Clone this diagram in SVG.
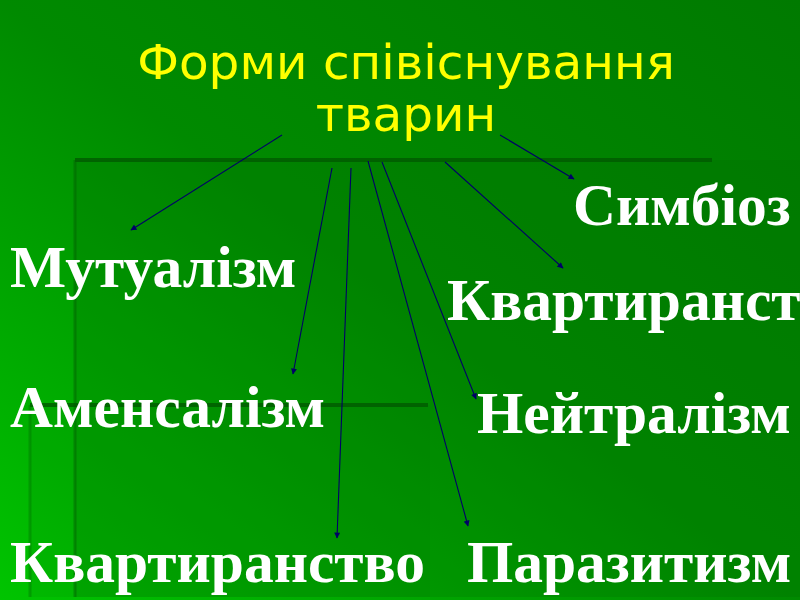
<svg xmlns="http://www.w3.org/2000/svg" width="800" height="600" viewBox="0 0 800 600">
<defs>
<linearGradient id="bg" x1="1" y1="0" x2="0" y2="1">
<stop offset="0" stop-color="#007a00"/>
<stop offset="0.5" stop-color="#008a00"/>
<stop offset="1" stop-color="#00c400"/>
</linearGradient>
<marker id="ah" viewBox="0 0 10 10" refX="9" refY="5" markerWidth="8" markerHeight="6" markerUnits="userSpaceOnUse" orient="auto">
<path d="M0,0 L10,5 L0,10 z" fill="#000066"/>
</marker>
<style>
.title{font-family:"DejaVu Sans","Noto Sans",sans-serif;font-size:48.5px;fill:#ffff00;text-anchor:middle}
.lbl{font-family:"Liberation Serif","Times New Roman",serif;font-weight:bold;font-size:59.5px;fill:#ffffff}
.conn line{stroke:#000066;stroke-width:1.1;marker-end:url(#ah)}
</style>
</defs>
<g id="background">
<rect x="0" y="0" width="800" height="600" fill="url(#bg)"/>
<rect x="75" y="160" width="725" height="437" fill="#006a00" opacity="0.22"/>
<rect x="30" y="405" width="400" height="192" fill="#006a00" opacity="0.1"/>
<line x1="75" y1="160" x2="712" y2="160" stroke="#005a00" stroke-width="4" opacity="0.8"/>
<line x1="75" y1="160" x2="75" y2="597" stroke="#006400" stroke-width="3" opacity="0.5"/>
<line x1="30" y1="405" x2="428" y2="405" stroke="#005a00" stroke-width="4" opacity="0.8"/>
<line x1="30" y1="405" x2="30" y2="597" stroke="#007000" stroke-width="3" opacity="0.4"/>
</g>
<g id="title">
<text class="title" x="406" y="79">Форми співіснування</text>
<text class="title" x="406" y="131">тварин</text>
</g>
<g id="connectors" class="conn">
<line x1="282" y1="135" x2="131" y2="230"/>
<line x1="332" y1="168" x2="293" y2="374"/>
<line x1="351" y1="168" x2="337" y2="538"/>
<line x1="368" y1="161" x2="468" y2="526"/>
<line x1="382" y1="162" x2="476" y2="399"/>
<line x1="445" y1="162" x2="563" y2="268"/>
<line x1="500" y1="135" x2="574" y2="179"/>
</g>
<g id="n-mutualism"><text class="lbl" x="10" y="287">Мутуалізм</text></g>
<g id="n-amensalism"><text class="lbl" x="10" y="427">Аменсалізм</text></g>
<g id="n-kvartyranstvo1"><text class="lbl" x="10" y="582">Квартиранство</text></g>
<g id="n-symbioz"><text class="lbl" x="573" y="225">Симбіоз</text></g>
<g id="n-kvartyranstvo2"><text class="lbl" x="447" y="320">Квартиранст</text></g>
<g id="n-neutralism"><text class="lbl" x="477" y="433">Нейтралізм</text></g>
<g id="n-parasitism"><text class="lbl" x="467" y="582">Паразитизм</text></g>
</svg>
